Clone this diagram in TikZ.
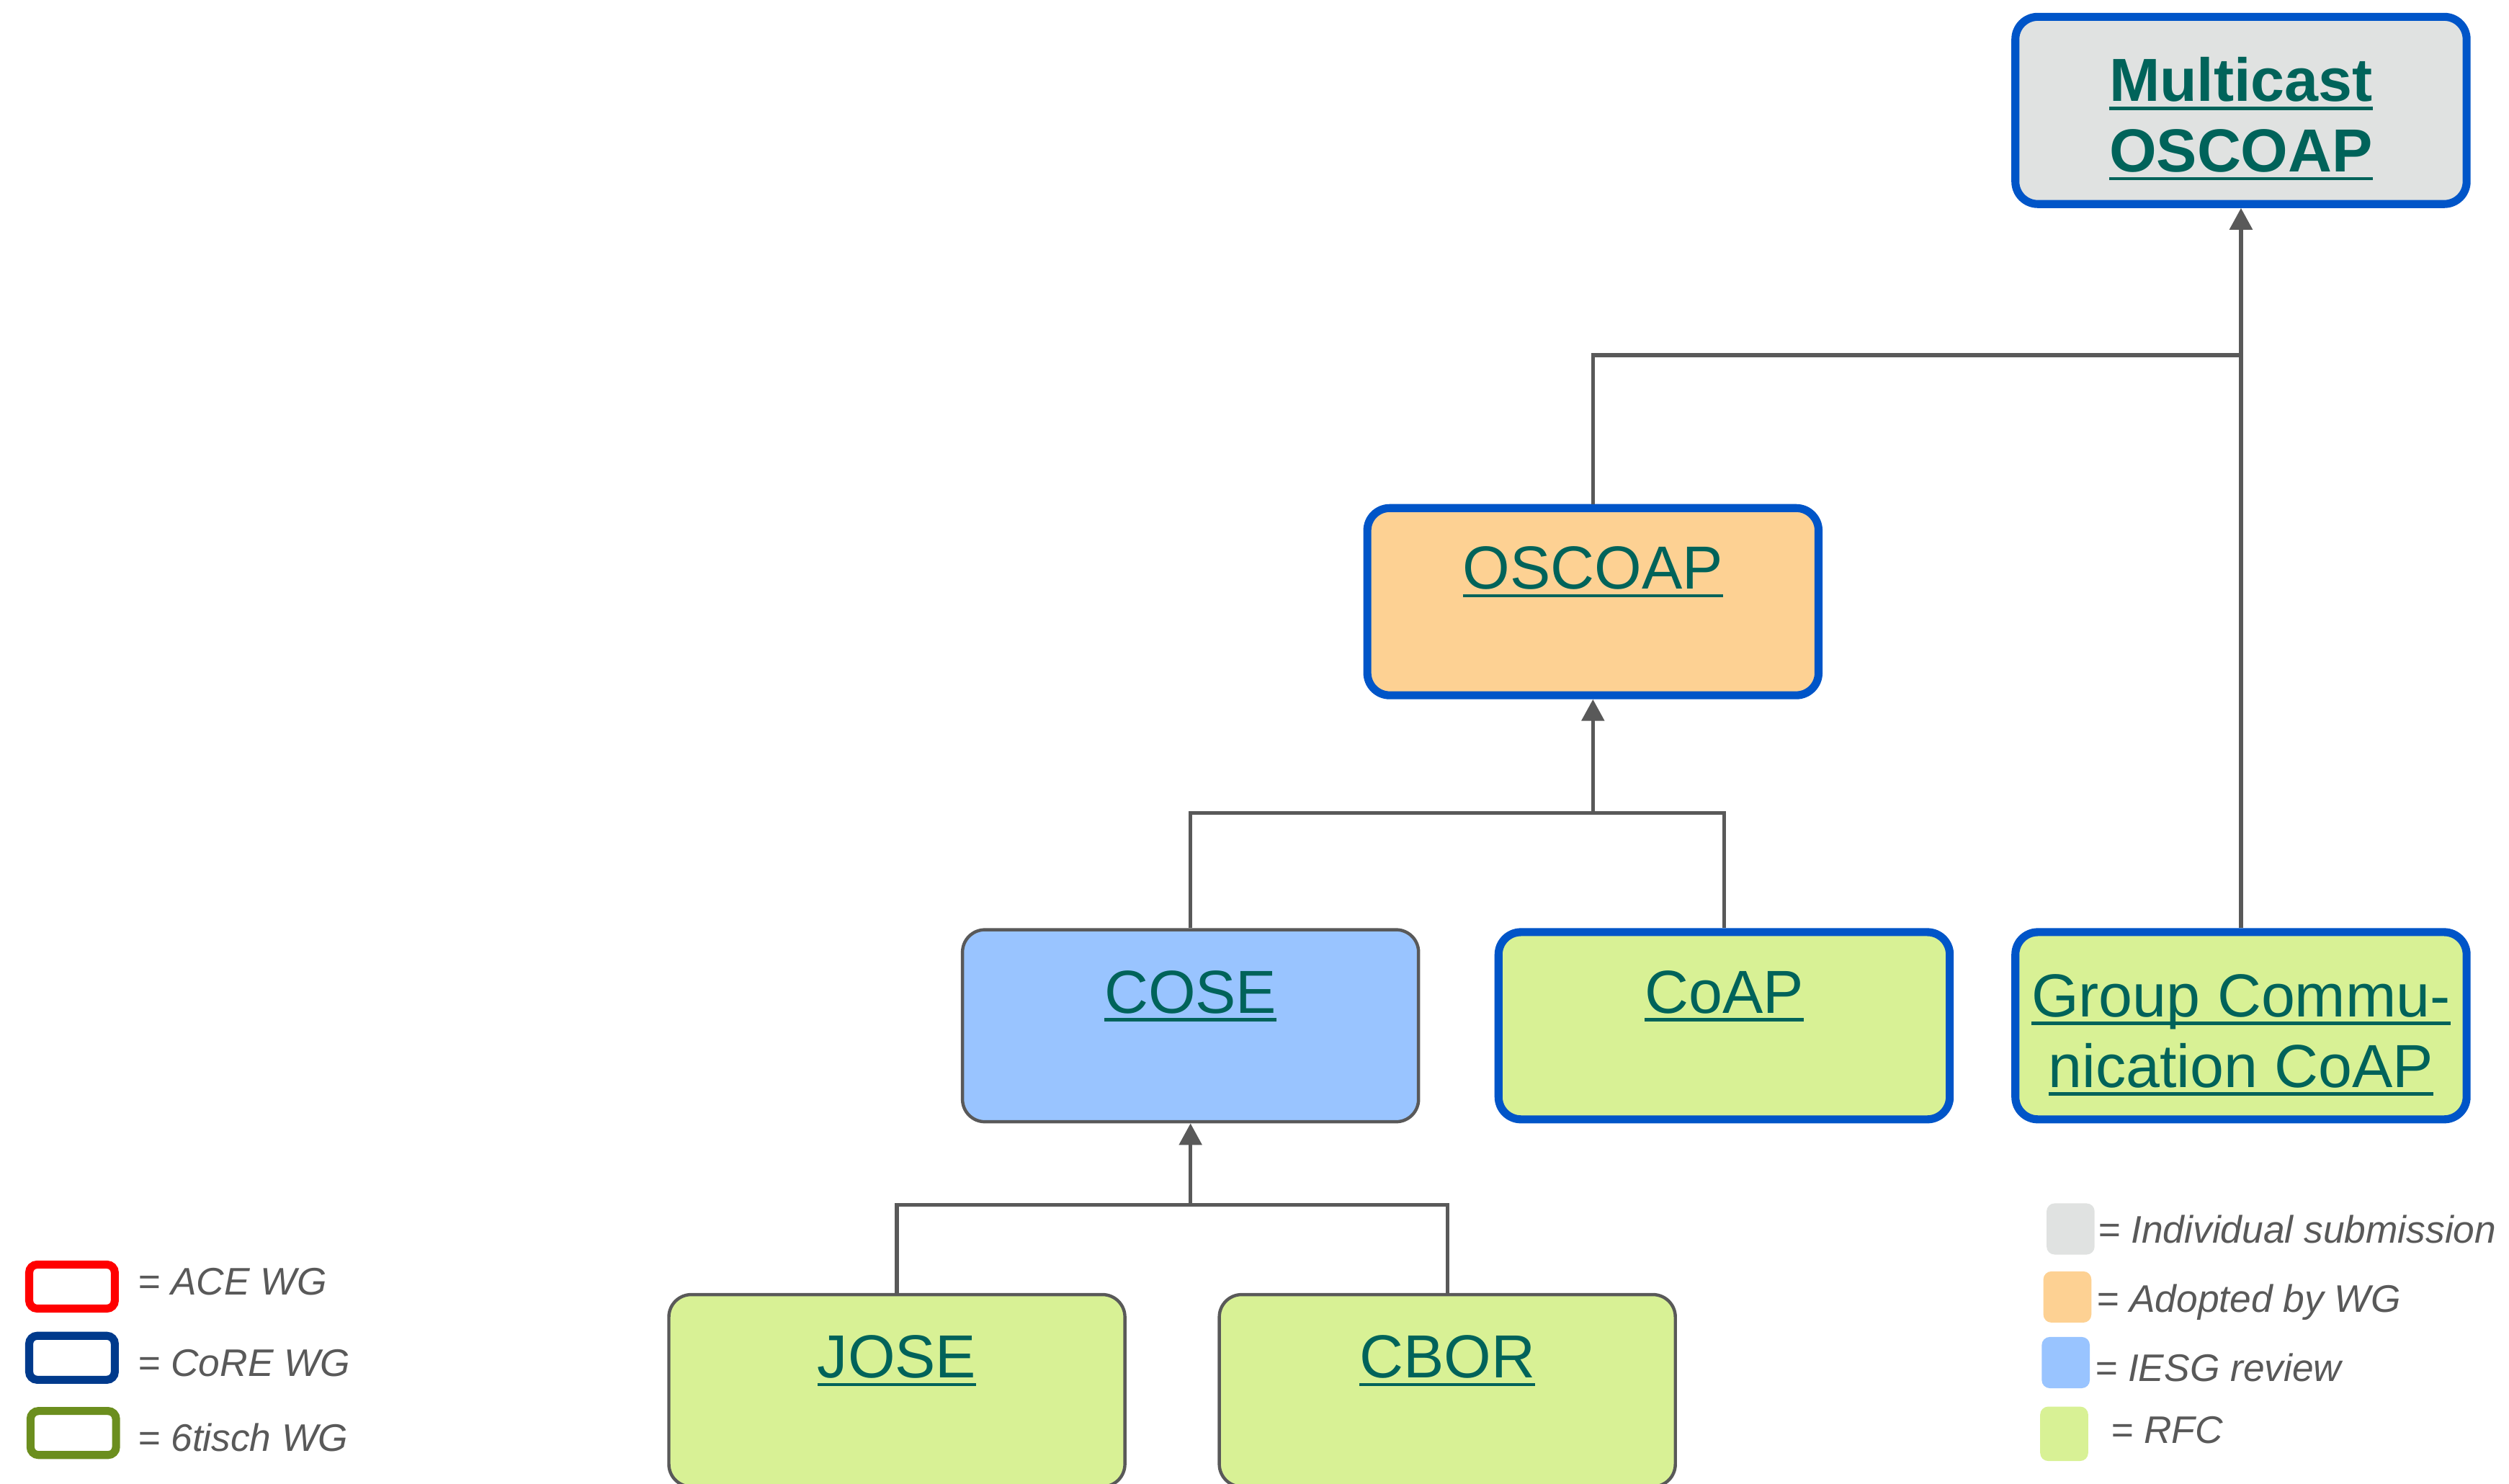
\documentclass[tikz,border=0pt]{standalone}
\usepackage{fontspec}
\setmainfont{Liberation Sans}
\usetikzlibrary{arrows.meta,positioning}

\definecolor{linkteal}{RGB}{0,99,90}
\definecolor{coreblue}{RGB}{0,85,200}
\definecolor{edgegray}{RGB}{89,89,89}
\definecolor{indivgray}{RGB}{224,226,225}
\definecolor{adoptorange}{RGB}{253,209,147}
\definecolor{iesgblue}{RGB}{153,196,255}
\definecolor{rfcgreen}{RGB}{216,241,149}
\definecolor{acered}{RGB}{255,0,0}
\definecolor{corenavy}{RGB}{0,58,140}
\definecolor{tischgreen}{RGB}{107,142,30}

\newcommand{\lnk}[1]{\leavevmode\setbox0=\hbox{#1}\rlap{\rule[-0.14em]{\wd0}{0.055em}}\box0}

\begin{document}
\begin{tikzpicture}[x=1pt,y=-1pt,>={Triangle[length=13.5pt,width=14pt]}]
  \tikzstyle{draft}=[draw=edgegray,line width=2pt,rounded corners=14pt,minimum width=285pt,inner sep=0pt,text=linkteal,font=\fontsize{38}{44}\selectfont]
  \tikzstyle{core}=[draft,draw=coreblue,line width=5pt,minimum width=282pt]
  \tikzstyle{draftline}=[text height=52pt,text depth=68pt]
  \tikzstyle{coreline}=[text height=50.5pt,text depth=66.5pt]
  \tikzstyle{twoline}=[minimum height=117pt,align=center]
  \tikzstyle{link}=[draw=edgegray,line width=2.4pt]
  \tikzstyle{wgkey}=[fill=white,line width=5pt,rounded corners=5pt,minimum width=53.5pt,minimum height=27.5pt,inner sep=0pt]
  \tikzstyle{statekey}=[rounded corners=5pt,minimum width=30pt,minimum height=32pt,inner sep=0pt]
  \tikzstyle{legend}=[text=edgegray,font=\fontsize{24}{28}\selectfont\itshape,anchor=base west,inner sep=0pt]

  \useasboundingbox (0,0) rectangle (1568,927);

  % documents
  \node[core,twoline,fill=indivgray,font=\fontsize{38}{44}\selectfont\bfseries] (multicast) at (1400.5,69) {\rule{0pt}{38pt}\lnk{Multicast}\\\lnk{OSCOAP}};
  \node[core,coreline,fill=adoptorange] (oscoap) at (995.5,376) {\lnk{OSCOAP}};
  \node[draft,draftline,fill=iesgblue]  (cose)   at (744,641)   {\lnk{COSE}};
  \node[core,coreline,fill=rfcgreen]    (coap)   at (1077.5,641) {\lnk{CoAP}};
  \node[core,twoline,fill=rfcgreen]     (group)  at (1400.5,641) {\rule{0pt}{38pt}\lnk{Group Commu-}\\\lnk{nication CoAP}};
  \node[draft,draftline,fill=rfcgreen]  (jose)   at (560.5,869) {\lnk{JOSE}};
  \node[draft,draftline,fill=rfcgreen]  (cbor)   at (904.5,869) {\lnk{CBOR}};

  % dependencies
  \coordinate (jjoin) at (744,753);
  \coordinate (cjoin) at (995.5,508);
  \coordinate (mjoin) at (1400.5,222);
  \draw[link] (jose.north) |- (jjoin) -| (cbor.north);
  \draw[link,->] (jjoin) -- (cose.south);
  \draw[link] (cose.north) |- (cjoin) -| (coap.north);
  \draw[link,->] (cjoin) -- (oscoap.south);
  \draw[link] (oscoap.north) |- (mjoin);
  \draw[link,->] (group.north) -- (multicast.south);

  % working groups
  \node[wgkey,draw=acered]     (aceKey)   at (45,804)   {};
  \node[wgkey,draw=corenavy]   (coreKey)  at (45,848.5) {};
  \node[wgkey,draw=tischgreen] (tischKey) at (45.8,895.5) {};
  \node[legend] (aceText)   at (86,809) {= ACE WG};
  \node[legend] (coreText)  at (86,860) {= CoRE WG};
  \node[legend] (tischText) at (86,907) {= 6tisch WG};

  % document states
  \node[statekey,fill=indivgray]   (indivKey) at (1294,768)   {};
  \node[statekey,fill=adoptorange] (adoptKey) at (1292,810.5) {};
  \node[statekey,fill=iesgblue]    (iesgKey)  at (1291,851.5) {};
  \node[statekey,fill=rfcgreen,minimum height=34pt] (rfcKey) at (1290,896) {};
  \node[legend] (indivText) at (1311,777) {= Individual submission};
  \node[legend] (adoptText) at (1310,820) {= Adopted by WG};
  \node[legend] (iesgText)  at (1309,863) {= IESG review};
  \node[legend] (rfcText)   at (1319,902) {= RFC};
\end{tikzpicture}
\end{document}
